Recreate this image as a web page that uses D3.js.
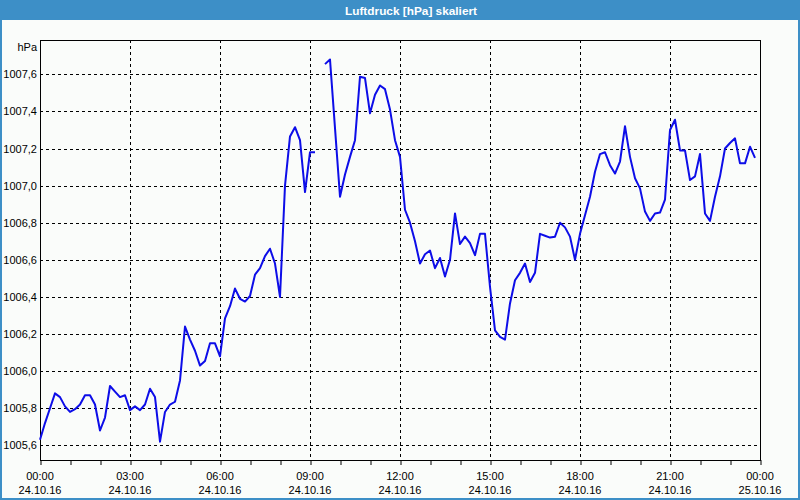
<!DOCTYPE html>
<html>
<head>
<meta charset="utf-8">
<script src="https://cdn.jsdelivr.net/npm/d3@7"></script>
<style>
  html, body { margin: 0; padding: 0; background: #fafcfa; }
  svg { display: block; }
  text { font-family: "Liberation Sans", Arial, sans-serif; }
</style>
</head>
<body>
<svg id="chart" width="800" height="500"></svg>
<script>
// ---- data ----
const title = "Luftdruck [hPa] skaliert";
const unitLabel = "hPa";
const startTime = "2016-10-24T00:00:00";
const endTime = "2016-10-25T00:00:00";
const stepMinutes = 10;
// Luftdruck in hPa, one value every 10 minutes from 00:00 (null = missing)
const pressure = [
  1005.63, 1005.72, 1005.80, 1005.88, 1005.86, 1005.81, 1005.78, 1005.795, 1005.82, 1005.87,
  1005.87, 1005.82, 1005.68, 1005.75, 1005.92, 1005.89, 1005.86, 1005.87, 1005.79, 1005.81,
  1005.79, 1005.82, 1005.905, 1005.86, 1005.62, 1005.78, 1005.82, 1005.835, 1005.95, 1006.24,
  1006.17, 1006.11, 1006.03, 1006.055, 1006.15, 1006.15, 1006.08, 1006.285, 1006.35, 1006.445,
  1006.39, 1006.375, 1006.405, 1006.52, 1006.555, 1006.62, 1006.66, 1006.58, 1006.40, 1007.00,
  1007.265, 1007.315, 1007.245, 1006.965, 1007.18, 1007.18, null, 1007.655, 1007.68, 1007.31,
  1006.94, 1007.06, 1007.155, 1007.245, 1007.587, 1007.58, 1007.39, 1007.49, 1007.54, 1007.52,
  1007.41, 1007.245, 1007.155, 1006.87, 1006.80, 1006.70, 1006.58, 1006.63, 1006.65, 1006.555,
  1006.61, 1006.51, 1006.60, 1006.85, 1006.685, 1006.725, 1006.69, 1006.625, 1006.74, 1006.74,
  1006.455, 1006.22, 1006.185, 1006.17, 1006.365, 1006.49, 1006.53, 1006.58, 1006.48, 1006.53,
  1006.74, 1006.73, 1006.72, 1006.725, 1006.80, 1006.775, 1006.725, 1006.60, 1006.74, 1006.84,
  1006.94, 1007.075, 1007.17, 1007.18, 1007.11, 1007.065, 1007.13, 1007.32, 1007.155, 1007.04,
  1006.985, 1006.86, 1006.81, 1006.85, 1006.855, 1006.925, 1007.30, 1007.355, 1007.19, 1007.19,
  1007.03, 1007.05, 1007.17, 1006.85, 1006.81, 1006.94, 1007.05, 1007.20, 1007.23, 1007.255,
  1007.12, 1007.12, 1007.21, 1007.15
];
const yTicks = [1005.6, 1005.8, 1006.0, 1006.2, 1006.4, 1006.6, 1006.8, 1007.0, 1007.2, 1007.4, 1007.6];
const yDomain = [1005.521, 1007.785];
const xTickTimes = ["00:00", "03:00", "06:00", "09:00", "12:00", "15:00", "18:00", "21:00", "00:00"];
const xTickDates = ["24.10.16", "24.10.16", "24.10.16", "24.10.16", "24.10.16", "24.10.16", "24.10.16", "24.10.16", "25.10.16"];

// ---- layout ----
const W = 800, H = 500;
const plot = { left: 40, top: 40, right: 760, bottom: 460 };
const svg = d3.select("#chart");

svg.append("rect").attr("x", 0).attr("y", 0).attr("width", W).attr("height", H).attr("fill", "#fafcfa");

// title bar
svg.append("rect").attr("x", 0).attr("y", 0).attr("width", W).attr("height", 20).attr("fill", "#3d8fc7");
svg.append("text").attr("x", 411).attr("y", 14.5).attr("text-anchor", "middle")
  .attr("fill", "#ffffff").attr("font-size", 11).attr("font-weight", "bold")
  .attr("textLength", 132).attr("lengthAdjust", "spacingAndGlyphs")
  .text(title);

// outer border
svg.append("rect").attr("x", 1).attr("y", 1).attr("width", W - 2).attr("height", H - 2)
  .attr("fill", "none").attr("stroke", "#3d8fc7").attr("stroke-width", 2);

const t0 = new Date(startTime), t1 = new Date(endTime);
const x = d3.scaleTime().domain([t0, t1]).range([plot.left, plot.right]);
const y = d3.scaleLinear().domain(yDomain).range([plot.bottom, plot.top]);

const data = pressure.map((v, i) => ({ t: new Date(t0.getTime() + i * stepMinutes * 60000), v }));

// grid
const gridTimes = d3.timeHour.every(3).range(t0, t1).filter(d => +d !== +t0);
svg.append("g").selectAll("line.vg").data(gridTimes).join("line")
  .attr("x1", d => Math.round(x(d)) + 0.5).attr("x2", d => Math.round(x(d)) + 0.5)
  .attr("y1", plot.top).attr("y2", plot.bottom)
  .attr("stroke", "#000").attr("stroke-width", 1).attr("stroke-dasharray", "3,3");
svg.append("g").selectAll("line.hg").data(yTicks).join("line")
  .attr("x1", plot.left).attr("x2", plot.right)
  .attr("y1", d => Math.round(y(d)) + 0.5).attr("y2", d => Math.round(y(d)) + 0.5)
  .attr("stroke", "#000").attr("stroke-width", 1).attr("stroke-dasharray", "3,3");

// hourly ticks
const hourAxis = d3.axisBottom(x).ticks(d3.timeHour.every(1)).tickSize(5).tickFormat("");
const gh = svg.append("g").attr("transform", `translate(0,${plot.bottom})`).call(hourAxis);
gh.select(".domain").remove();
gh.selectAll("line").attr("stroke", "#000").attr("transform", "translate(0.5,0)");

// x labels
const labelTimes = d3.timeHour.every(3).range(t0, new Date(t1.getTime() + 1));
const xl = svg.append("g").selectAll("g").data(labelTimes).join("g")
  .attr("transform", d => `translate(${x(d)},0)`);
xl.append("text").attr("y", 479.5).attr("text-anchor", "middle").attr("font-size", 11).attr("fill", "#000")
  .text((d, i) => xTickTimes[i]);
xl.append("text").attr("y", 493.5).attr("text-anchor", "middle").attr("font-size", 11).attr("fill", "#000")
  .text((d, i) => xTickDates[i]);

// y axis labels
const yAxis = d3.axisLeft(y).tickValues(yTicks).tickSize(0).tickPadding(3)
  .tickFormat(d => d3.format(".1f")(d).replace(".", ","));
const gy = svg.append("g").attr("transform", `translate(${plot.left},0)`).call(yAxis);
gy.select(".domain").remove();
gy.selectAll("text").attr("font-size", 11).attr("font-family", "Liberation Sans, Arial, sans-serif").attr("fill", "#000");

svg.append("text").attr("x", 37).attr("y", 50.5).attr("text-anchor", "end")
  .attr("font-size", 11).attr("fill", "#000").text(unitLabel);

// frame
svg.append("rect").attr("x", plot.left + 0.5).attr("y", plot.top + 0.5)
  .attr("width", plot.right - plot.left).attr("height", plot.bottom - plot.top)
  .attr("fill", "none").attr("stroke", "#000").attr("stroke-width", 1);

// line
const line = d3.line().defined(d => d.v !== null).x(d => x(d.t)).y(d => y(d.v));
svg.append("path").datum(data).attr("d", line)
  .attr("fill", "none").attr("stroke", "#0d0de8").attr("stroke-width", 2).attr("stroke-linejoin", "round");
</script>
</body>
</html>
